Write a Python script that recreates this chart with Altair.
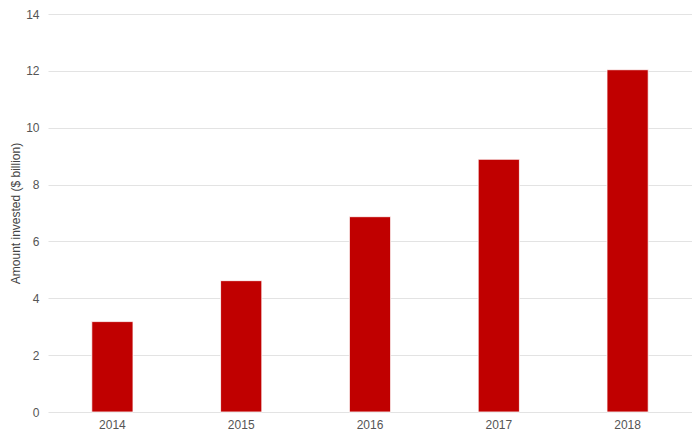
import altair as alt
import pandas as pd

years = ["2014", "2015", "2016", "2017", "2018"]
amounts = [3.18, 4.62, 6.87, 8.89, 12.04]

df = pd.DataFrame({"year": years, "amount": amounts})

chart = alt.Chart(df).mark_bar(color="#C00000", stroke="#ffffff", strokeWidth=0.8).encode(
    x=alt.X("year:N", sort=years, title=None,
            scale=alt.Scale(paddingInner=0.68, paddingOuter=0.34),
            axis=alt.Axis(labelAngle=0, labelFontSize=12, labelColor="#555555",
                          labelFont="Liberation Sans", labelPadding=7,
                          domain=False, ticks=False, grid=False)),
    y=alt.Y("amount:Q", title="Amount invested ($ billion)",
            scale=alt.Scale(domain=[0, 14], nice=False),
            axis=alt.Axis(values=[0, 2, 4, 6, 8, 10, 12, 14], labelFontSize=12,
                          labelColor="#555555", labelFont="Liberation Sans",
                          labelPadding=9, ticks=False, domain=False,
                          grid=True, gridColor="#e3e3e3", gridWidth=1,
                          titleFont="Liberation Sans", titleFontSize=12,
                          titleFontWeight="normal", titleColor="#444444",
                          titlePadding=3)),
).properties(
    width=644, height=398,
    autosize=alt.AutoSizeParams(type="none"),
    padding={"left": 40, "top": 6, "right": 0, "bottom": 23},
).configure_view(stroke=None)

chart.save("out.html", embed_options={"renderer": "svg", "actions": False})
